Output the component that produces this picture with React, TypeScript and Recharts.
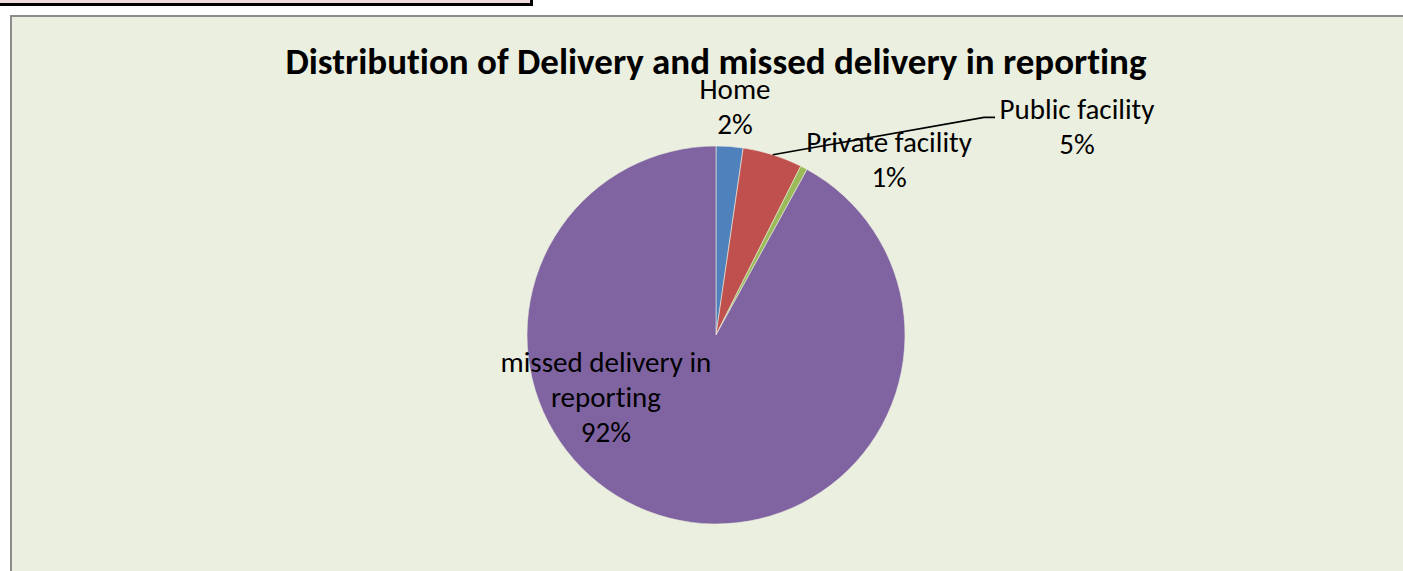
import React from 'react';
import { PieChart, Pie, Cell } from 'recharts';

const categories = ['Home', 'Public facility', 'Private facility', 'missed delivery in reporting'];
const values = [2.3, 5.1, 0.6, 92.0];
const categoryLines = [['Home'], ['Public facility'], ['Private facility'], ['missed delivery in', 'reporting']];
const colors = ['#4F81BD', '#C0504D', '#9BBB59', '#8064A2'];
// label placement in polar terms: angle (deg, counter-clockwise from 3 o'clock) and radius factor of outerRadius
const labelAngles = [85.28, 30.1, 45.6, 209];
const labelRadii = [1.2217, 2.208, 1.309, 0.666];
const hasLeader = [false, true, false, false];

const title = 'Distribution of Delivery and missed delivery in reporting';
const FONT = "Calibri, Carlito, 'Liberation Sans', Arial, sans-serif";
const FS = 29;
const LH = 35;
const CAP = 22.4;
const RAD = Math.PI / 180;

const data = categories.map((c, i) => ({ name: c, value: values[i] }));

const renderLabel = (props: any) => {
  const { cx, cy, midAngle, outerRadius, percent, index } = props;
  const a = labelAngles[index] * RAD;
  const r = outerRadius * labelRadii[index];
  const lx = cx + r * Math.cos(a);
  const ly = cy - r * Math.sin(a);
  const lines = [...categoryLines[index], `${Math.round(percent * 100)}%`];
  const firstBase = ly - ((lines.length - 1) * LH) / 2 + CAP / 2;
  let leader = null;
  if (hasLeader[index]) {
    const sx = cx + outerRadius * Math.cos(-midAngle * RAD);
    const sy = cy + outerRadius * Math.sin(-midAngle * RAD);
    const ey = firstBase - 2;
    const ex2 = lx - 82;
    const ex1 = ex2 - 11;
    leader = <polyline points={`${sx},${sy} ${ex1},${ey} ${ex2},${ey}`} fill="none" stroke="#000" strokeWidth={1.6} />;
  }
  return (
    <g key={`lbl-${index}`}>
      {leader}
      <text x={lx} y={firstBase} textAnchor="middle" fontFamily={FONT} fontSize={FS} fill="#000" style={{ fontVariantLigatures: 'none' }}>
        {lines.map((t, i) => (
          <tspan key={i} x={lx} y={firstBase + i * LH}>{t}</tspan>
        ))}
      </text>
    </g>
  );
};

export default function App() {
  return (
    <div style={{ position: 'absolute', left: 0, top: 0, width: 1403, height: 571, overflow: 'hidden', background: '#fff' }}>
      <div style={{ position: 'absolute', left: -10, top: -10, width: 540, height: 13, background: '#F2DCDB', borderRight: '3px solid #000', borderBottom: '3px solid #000' }} />
      <div style={{ position: 'absolute', left: 10, top: 15, width: 1440, height: 620, background: '#EBEFDF', borderTop: '2px solid #8C8C8C', borderLeft: '2px solid #8C8C8C', boxSizing: 'border-box' }} />
      <div style={{ position: 'absolute', left: 0, top: 0 }}>
        <PieChart width={1403} height={571} margin={{ top: 0, right: 0, bottom: 0, left: 0 }}>
          <text x={716} y={74} textAnchor="middle" fontFamily={FONT} fontSize={37} fontWeight="bold" fill="#000" style={{ fontVariantLigatures: 'none' }}>{title}</text>
          <Pie
            data={data}
            dataKey="value"
            nameKey="name"
            cx={716}
            cy={335}
            outerRadius={189}
            startAngle={90}
            endAngle={-270}
            isAnimationActive={false}
            labelLine={false}
            label={renderLabel}
            stroke="#EBEFDF"
            strokeWidth={0.6}
          >
            {data.map((d, i) => (
              <Cell key={d.name} fill={colors[i]} />
            ))}
          </Pie>
        </PieChart>
      </div>
    </div>
  );
}
